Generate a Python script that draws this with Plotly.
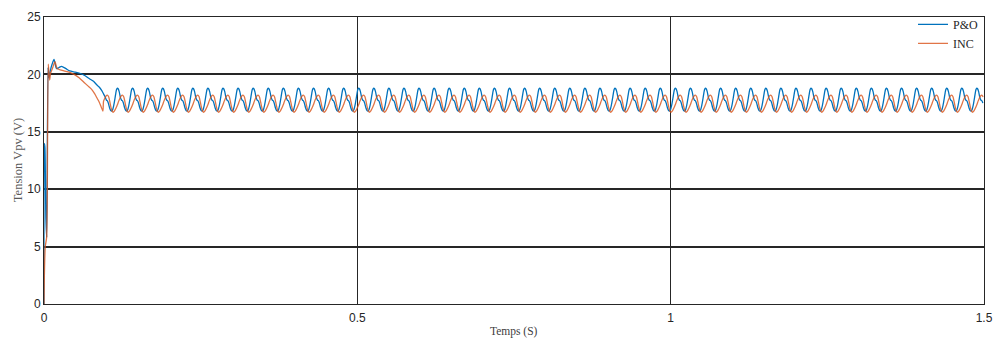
import plotly.graph_objects as go

# ---------------- data ----------------
# transient (start-up) part, time in s, voltage in V
po_t_start = [0, 0.0006, 0.0015, 0.003, 0.0043, 0.0065, 0.008, 0.010, 0.013, 0.016,
              0.020, 0.024, 0.028, 0.035, 0.041, 0.050, 0.057, 0.065, 0.073, 0.079,
              0.084, 0.088, 0.092, 0.095, 0.097]
po_v_start = [0, 14.0, 13.6, 7.5, 5.8, 20.6, 19.7, 20.3, 20.9, 21.3,
              20.5, 20.6, 20.7, 20.5, 20.3, 20.2, 20.1, 19.9, 19.6, 19.4,
              19.1, 18.9, 18.6, 18.3, 18.1]

inc_t_start = [0, 0.0006, 0.002, 0.0042, 0.0068, 0.009, 0.0105, 0.014, 0.0175, 0.021,
               0.026, 0.032, 0.040, 0.048, 0.056, 0.064, 0.070, 0.076, 0.081, 0.085,
               0.088, 0.091, 0.094]
inc_v_start = [0, 2.5, 5.0, 5.8, 20.9, 19.5, 20.1, 20.6, 21.1, 20.5,
               20.4, 20.3, 20.2, 20.0, 19.7, 19.3, 19.0, 18.7, 18.3, 17.9,
               17.6, 17.2, 16.8]

# steady-state ripple: one measured cycle (phase within a period, voltage)
ripple_period = 0.02406      # s, measured from peak spacing
first_po_peak = 0.1171       # s
po_cycle_phase = [0.0, 0.05, 0.12, 0.2, 0.28, 0.34, 0.4, 0.48, 0.56, 0.62,
                  0.68, 0.76, 0.84, 0.9, 0.95]
po_cycle_v = [18.8, 18.75, 18.5, 18.0, 17.75, 17.7, 17.5, 17.1, 16.85, 16.8,
              16.9, 17.3, 17.9, 18.4, 18.7]
inc_cycle_phase = [0.0, 0.08, 0.16, 0.24, 0.33, 0.42, 0.5, 0.58, 0.65, 0.72,
                   0.8, 0.9]
inc_cycle_v = [17.35, 17.65, 17.9, 18.1, 18.2, 18.05, 17.6, 17.1, 16.8, 16.7,
               16.8, 17.05]

t_end = 1.5
x_ticks = [0, 0.5, 1, 1.5]
x_tick_text = ["0", "0.5", "1", "1.5"]
y_ticks = [0, 5, 10, 15, 20, 25]
x_title = "Temps (S)"
y_title = "Tension Vpv (V)"


def build(t_start, v_start, phases, values):
    t = list(t_start)
    v = list(v_start)
    k = -1
    while True:
        base = first_po_peak + k * ripple_period
        if base > t_end:
            break
        for ph, val in zip(phases, values):
            tt = base + ph * ripple_period
            if tt > t[-1] and tt <= t_end:
                t.append(tt)
                v.append(val)
        k += 1
    return t, v


po_t, po_v = build(po_t_start, po_v_start, po_cycle_phase, po_cycle_v)
inc_t, inc_v = build(inc_t_start, inc_v_start, inc_cycle_phase, inc_cycle_v)

fig = go.Figure()
fig.add_trace(go.Scatter(x=po_t, y=po_v, mode="lines", name="P&O",
                         line=dict(color="#0072BD", width=1.3, shape="spline", smoothing=0.6)))
fig.add_trace(go.Scatter(x=inc_t, y=inc_v, mode="lines", name="INC",
                         line=dict(color="#D95319", width=1.3, shape="spline", smoothing=0.6),
                         opacity=0.8))

fig.update_layout(
    width=994, height=339,
    margin=dict(l=44, r=10, t=17, b=35),
    paper_bgcolor="white", plot_bgcolor="white",
    font=dict(family="Liberation Sans, Arial", size=12, color="#262626"),
    showlegend=True,
    legend=dict(x=1, y=1.025, xanchor="right", yanchor="top",
                bgcolor="rgba(255,255,255,0)", borderwidth=0,
                font=dict(family="Liberation Serif", size=12, color="#262626"),
                tracegroupgap=0),
    annotations=[
        dict(text=x_title, xref="paper", yref="paper", x=0.5, y=-0.097,
             xanchor="center", yanchor="middle", showarrow=False,
             font=dict(family="Liberation Serif", size=11.5, color="#404040")),
        dict(text=y_title, xref="paper", yref="paper", x=-0.028, y=0.5,
             xanchor="center", yanchor="middle", showarrow=False, textangle=-90,
             font=dict(family="Liberation Serif", size=12.5, color="#595959")),
    ],
)
fig.update_xaxes(range=[0, 1.5], tickvals=x_ticks, ticktext=x_tick_text,
                 showgrid=True, gridcolor="#262626", gridwidth=1,
                 showline=True, mirror=True, linecolor="#262626", linewidth=1,
                 ticks="outside", ticklen=3, tickcolor="rgba(0,0,0,0)",
                 zeroline=False, automargin=False)
fig.update_yaxes(range=[0, 25], tickvals=y_ticks,
                 showgrid=True, gridcolor="#262626", gridwidth=1.6,
                 showline=True, mirror=True, linecolor="#262626", linewidth=1,
                 ticks="", zeroline=False, automargin=False)

fig.write_html("out.html")
